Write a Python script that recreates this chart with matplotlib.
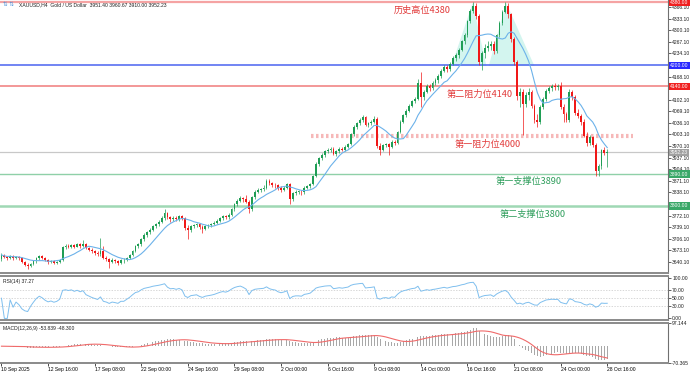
import numpy as np
import pandas as pd
import matplotlib
matplotlib.use("Agg")
import matplotlib.pyplot as plt

# XAUUSD H4, 10 Sep 2025 00:00 -> 28 Oct 2025 16:00, one row per trading day
first_open = 3648
closes = [
    3660, 3655, 3652, 3658, 3650, 3654,  # 10 Sep
    3650, 3640, 3632, 3628, 3635, 3642,  # 11 Sep
    3650, 3656, 3652, 3645, 3640, 3642,  # 12 Sep
    3638, 3640, 3645, 3682, 3686, 3684,  # 15 Sep
    3688, 3684, 3690, 3686, 3692, 3680,  # 16 Sep
    3675, 3670, 3666, 3662, 3672, 3652,  # 17 Sep
    3648, 3640, 3645, 3642, 3638, 3645,  # 18 Sep
    3645, 3652, 3660, 3672, 3685, 3690,  # 19 Sep
    3705, 3718, 3725, 3732, 3742, 3748,  # 22 Sep
    3755, 3765, 3780, 3768, 3762, 3765,  # 23 Sep
    3762, 3770, 3765, 3738, 3730, 3742,  # 24 Sep
    3745, 3748, 3740, 3735, 3742, 3745,  # 25 Sep
    3748, 3752, 3758, 3765, 3770, 3768,  # 26 Sep
    3775, 3790, 3805, 3815, 3822, 3818,  # 29 Sep
    3812, 3790, 3825, 3840, 3845, 3848,  # 30 Sep
    3852, 3872, 3864, 3860, 3858, 3850,  # 1 Oct
    3846, 3852, 3862, 3818, 3835, 3840,  # 2 Oct
    3840, 3838, 3852, 3856, 3862, 3885,  # 3 Oct
    3920, 3935, 3945, 3955, 3960, 3962,  # 6 Oct
    3948, 3955, 3962, 3960, 3968, 3975,  # 7 Oct
    4005, 4025, 4035, 4045, 4052, 4030,  # 8 Oct
    4036, 4040, 4048, 3970, 3960, 3972,  # 9 Oct
    3975, 3968, 3982, 3978, 4010, 4040,  # 10 Oct
    4058, 4070, 4085, 4098, 4105, 4150,  # 13 Oct
    4110, 4125, 4140, 4135, 4150, 4158,  # 14 Oct
    4170, 4185, 4195, 4190, 4205, 4222,  # 15 Oct
    4228, 4245, 4268, 4285, 4325, 4355,  # 16 Oct
    4368, 4340, 4210, 4235, 4250, 4255,  # 17 Oct
    4262, 4240, 4285, 4320, 4352, 4370,  # 20 Oct
    4345, 4275, 4210, 4112, 4125, 4090,  # 21 Oct
    4115, 4125, 4085, 4045, 4038, 4082,  # 22 Oct
    4105, 4128, 4135, 4142, 4138, 4140,  # 23 Oct
    4080, 4060, 4045, 4125, 4110, 4065,  # 24 Oct
    4055, 4040, 4000, 3978, 3995, 3972,  # 27 Oct
    3898, 3912, 3958, 3951.40, 3952.23,  # 28 Oct
]
highs = [
    3665, 3662, 3658, 3661, 3660, 3657,
    3658, 3653, 3644, 3637, 3638, 3646,
    3653, 3660, 3659, 3655, 3648, 3645,
    3646, 3644, 3649, 3685, 3690, 3690,
    3692, 3691, 3694, 3693, 3703, 3695,
    3684, 3679, 3674, 3670, 3707, 3685,
    3658, 3652, 3650, 3649, 3646, 3649,
    3650, 3655, 3663, 3675, 3688, 3694,
    3708, 3722, 3728, 3736, 3746, 3752,
    3760, 3770, 3790, 3782, 3772, 3770,
    3770, 3775, 3774, 3768, 3745, 3746,
    3749, 3752, 3751, 3744, 3746, 3749,
    3752, 3756, 3762, 3769, 3774, 3775,
    3779, 3794, 3809, 3820, 3828, 3826,
    3832, 3816, 3828, 3845, 3850, 3852,
    3858, 3877, 3876, 3868, 3864, 3862,
    3855, 3856, 3866, 3866, 3838, 3844,
    3846, 3845, 3856, 3860, 3866, 3888,
    3924, 3940, 3950, 3958, 3964, 3966,
    3966, 3958, 3966, 3966, 3972, 3978,
    4008, 4030, 4040, 4050, 4058, 4055,
    4040, 4045, 4055, 4052, 3978, 3976,
    3980, 3980, 3986, 3986, 4014, 4044,
    4062, 4075, 4090, 4102, 4110, 4162,
    4180, 4130, 4146, 4146, 4155, 4164,
    4175, 4190, 4200, 4200, 4210, 4226,
    4235, 4250, 4272, 4292, 4330, 4360,
    4381, 4378, 4345, 4240, 4262, 4268,
    4270, 4268, 4290, 4325, 4358, 4381,
    4378, 4350, 4280, 4215, 4135, 4132,
    4125, 4135, 4130, 4090, 4060, 4088,
    4110, 4132, 4142, 4148, 4150, 4146,
    4152, 4090, 4068, 4132, 4130, 4115,
    4075, 4062, 4048, 4010, 4002, 4000,
    3978, 3918, 3962, 3966, 3960.67,
]
lows = [
    3642, 3650, 3647, 3649, 3646, 3648,
    3646, 3636, 3628, 3620, 3625, 3632,
    3638, 3646, 3648, 3642, 3634, 3636,
    3633, 3634, 3637, 3642, 3678, 3679,
    3680, 3680, 3682, 3681, 3684, 3676,
    3671, 3666, 3661, 3656, 3658, 3648,
    3644, 3622, 3636, 3637, 3632, 3634,
    3638, 3642, 3648, 3656, 3668, 3680,
    3686, 3700, 3712, 3720, 3728, 3736,
    3742, 3750, 3760, 3762, 3755, 3758,
    3756, 3758, 3760, 3732, 3705, 3724,
    3736, 3740, 3734, 3722, 3730, 3737,
    3740, 3744, 3748, 3754, 3760, 3762,
    3762, 3770, 3785, 3800, 3810, 3812,
    3808, 3780, 3786, 3820, 3836, 3840,
    3842, 3848, 3860, 3854, 3852, 3844,
    3840, 3842, 3848, 3806, 3814, 3830,
    3834, 3830, 3834, 3848, 3850, 3858,
    3882, 3914, 3930, 3940, 3950, 3954,
    3944, 3942, 3950, 3955, 3956, 3964,
    3972, 4000, 4020, 4030, 4040, 4026,
    4024, 4030, 4036, 3965, 3945, 3955,
    3966, 3944, 3965, 3972, 3975, 4006,
    4035, 4054, 4066, 4080, 4094, 4100,
    4082, 4100, 4120, 4128, 4130, 4145,
    4150, 4165, 4180, 4182, 4185, 4200,
    4212, 4222, 4240, 4262, 4280, 4320,
    4348, 4332, 4200, 4186, 4222, 4240,
    4245, 4232, 4236, 4280, 4315, 4348,
    4335, 4265, 4200, 4100, 4082, 4002,
    4080, 4100, 4078, 4035, 4025, 4032,
    4075, 4098, 4120, 4128, 4130, 4130,
    4075, 4040, 4038, 4040, 4100, 4058,
    4050, 4030, 3995, 3970, 3972, 3966,
    3886, 3886, 3905, 3945, 3910,
]

date_labels = ["10 Sep 2025", "12 Sep 16:00", "17 Sep 08:00", "22 Sep 00:00",
               "24 Sep 16:00", "29 Sep 08:00", "2 Oct 00:00", "6 Oct 16:00",
               "9 Oct 08:00", "14 Oct 00:00", "16 Oct 16:00", "21 Oct 08:00",
               "24 Oct 00:00", "28 Oct 16:00"]
label_bars = [16 * k for k in range(len(date_labels))]

# drawn levels
lvl_high, lvl_blue, lvl_res2, lvl_res1 = 4380, 4200, 4140, 4000
lvl_last, lvl_sup1, lvl_sup2 = 3952.23, 3890, 3800

# double-top shading (bar, price)
top_left = [(154.5, 4198), (161.8, 4378), (166.5, 4198)]
top_right = [(167.3, 4198), (173.3, 4378), (183.0, 4198)]

SMALL = dict(family="Liberation Sans", fontsize=3.6)
CJK = ["Noto Sans CJK SC", "DejaVu Sans"]

df = pd.DataFrame({"close": closes, "high": highs, "low": lows})
df["open"] = df["close"].shift(1).fillna(first_open)
x = np.arange(len(df))

ma = df["close"].rolling(10, min_periods=1).mean()
delta = df["close"].diff().fillna(0)
up = delta.clip(lower=0).ewm(alpha=1 / 14, adjust=False).mean()
dn = (-delta.clip(upper=0)).ewm(alpha=1 / 14, adjust=False).mean()
rsi = 100 - 100 / (1 + up / dn.replace(0, np.nan))
rsi = rsi.fillna(50)
macd = df["close"].ewm(span=12, adjust=False).mean() - df["close"].ewm(span=26, adjust=False).mean()
signal = macd.rolling(9, min_periods=1).mean()

W, H = 692, 373
fig = plt.figure(figsize=(W / 100, H / 100), dpi=100)
fig.patch.set_facecolor("white")


def pix_axes(top, bottom):
    return fig.add_axes([0, 1 - bottom / H, 668 / W, (bottom - top) / H])


ax = pix_axes(0, 273)
ax_rsi = pix_axes(276, 320)
ax_macd = pix_axes(323, 363)

xmax = 668 / 2.9125
for a in (ax, ax_rsi, ax_macd):
    a.set_xlim(-0.5, xmax - 0.5)
    a.spines["left"].set_visible(False)
    a.spines["top"].set_visible(False)
    a.spines["right"].set_color("#707070")
    a.spines["right"].set_linewidth(0.8)
    a.spines["bottom"].set_color("#8a8a8a")
    a.spines["bottom"].set_linewidth(1.4)
    a.yaxis.tick_right()
    a.tick_params(axis="y", length=2, width=0.5, pad=1, labelsize=3.6, colors="#202020")
    a.tick_params(axis="x", length=2, width=0.5, pad=1, labelsize=3.6)
for a in (ax_rsi, ax_macd):
    a.spines["top"].set_visible(True)
    a.spines["top"].set_color("#8a8a8a")
    a.spines["top"].set_linewidth(1.4)

# ---- main price panel
ax.set_ylim(3608.6, 4386.0)
boxed = [lvl_high, lvl_blue, lvl_res2, lvl_last, lvl_sup1, lvl_sup2]
ticks = [3640.10 + 33 * k for k in range(23)]
ticks = [t for t in ticks if min(abs(t - b) for b in boxed) > 9]
ax.set_yticks(ticks)
ax.set_yticklabels([f"{t:.2f}" for t in ticks], family="Liberation Sans", fontsize=3.6)
ax.set_xticks([])

for tri in (top_left, top_right):
    ax.fill([p[0] for p in tri], [p[1] for p in tri], color="#d3f5ef", lw=0, zorder=1)

ax.axhline(lvl_high, color="#f5a3a3", lw=1.6, zorder=2)
ax.axhline(lvl_blue, color="#4a63f0", lw=1.1, zorder=2)
ax.axhline(lvl_res2, color="#f07a7a", lw=1.1, zorder=2)
ax.hlines(lvl_res1, 310 / 2.9125, 632 / 2.9125, color="#f6b8b8", lw=3, linestyles=(0, (0.6, 0.6)), zorder=2)
ax.axhline(lvl_last, color="#c8c8c8", lw=0.9, zorder=2)
ax.axhline(lvl_sup1, color="#8fd0a8", lw=1.0, zorder=2)
ax.axhline(lvl_sup2, color="#9fd8b4", lw=1.8, zorder=2)

bull = df["close"] >= df["open"]
colors = np.where(bull, "#1f9e55", "#f01818")
ax.vlines(x, df["low"], df["high"], colors=colors, lw=0.5, zorder=3)
body = (df["close"] - df["open"]).abs().clip(lower=1.5)
ax.bar(x, body, bottom=np.minimum(df["open"], df["close"]), width=0.62,
       color=colors, lw=0, zorder=4)
ax.plot(x, ma, color="#6cb2ea", lw=0.8, zorder=5)

red_txt, green_txt = "#e23b3b", "#2f9e5c"
ax.text(144.3, 4357, "历史高位4380", color=red_txt, fontsize=6.6, family=CJK, ha="center", va="center")
ax.text(164.1, 4116, "第二阻力位4140", color=red_txt, fontsize=6.6, family=CJK, ha="center", va="center")
ax.text(167.0, 3976, "第一阻力位4000", color=red_txt, fontsize=6.6, family=CJK, ha="center", va="center")
ax.text(181.0, 3870, "第一支撑位3890", color=green_txt, fontsize=6.6, family=CJK, ha="center", va="center")
ax.text(182.3, 3776, "第二支撑位3800", color=green_txt, fontsize=6.6, family=CJK, ha="center", va="center")

trans = ax.get_yaxis_transform()
for val, txt, col in [(lvl_high, "4380.00", "#f02020"), (lvl_blue, "4200.00", "#2a2aff"),
                      (lvl_res2, "4140.00", "#f02020"), (lvl_last, "3952.23", "#a0a0a0"),
                      (lvl_sup1, "3890.00", "#3aa868"), (lvl_sup2, "3800.00", "#3aa868")]:
    ax.text(1.003, val, txt, transform=trans, color="white", ha="left", va="center",
            family="Liberation Sans", fontsize=3.6, zorder=10, clip_on=False,
            bbox=dict(boxstyle="square,pad=0.25", fc=col, ec="none"))

ax.text(0.028, 0.993, "XAUUSD,H4  Gold / US Dollar  3951.40 3960.67 3910.00 3952.23",
        transform=ax.transAxes, va="top", ha="left", color="#202020", **SMALL)
ax.text(0.004, 0.993, "⇅ ⇅", transform=ax.transAxes, va="top", ha="left", color="#4a90d9",
        fontsize=4, family="DejaVu Sans")

# ---- RSI panel
ax_rsi.set_ylim(-3.9, 104.8)
ax_rsi.set_yticks([0, 30, 50, 70, 100])
ax_rsi.set_yticklabels(["0.00", "30.00", "50.00", "70.00", "100.00"], family="Liberation Sans", fontsize=3.6)
ax_rsi.set_xticks([])
for lv in (30, 50, 70):
    ax_rsi.axhline(lv, color="#c8c8c8", lw=0.5, ls=(0, (2, 2)))
ax_rsi.plot(x, rsi, color="#7fbfee", lw=0.7)
ax_rsi.text(0.004, 0.93, "RSI(14) 37.27", transform=ax_rsi.transAxes, va="top", ha="left",
            color="#202020", **SMALL)

# ---- MACD panel
ax_macd.set_ylim(-70.365, 97.144)
ax_macd.set_yticks([-70.365, 97.144])
ax_macd.set_yticklabels(["-70.365", "97.144"], family="Liberation Sans", fontsize=3.6)
ax_macd.bar(x, macd, width=0.32, color="#a8a8a8", lw=0)
ax_macd.plot(x, signal, color="#f06a6a", lw=0.8)
ax_macd.text(0.004, 0.93, "MACD(12,26,9) -53.839 -48.300", transform=ax_macd.transAxes,
             va="top", ha="left", color="#202020", **SMALL)
ax_macd.set_xticks(label_bars)
ax_macd.set_xticklabels(date_labels, family="Liberation Sans", fontsize=3.6, ha="left")

fig.savefig("out.png", dpi=100, facecolor="white")
